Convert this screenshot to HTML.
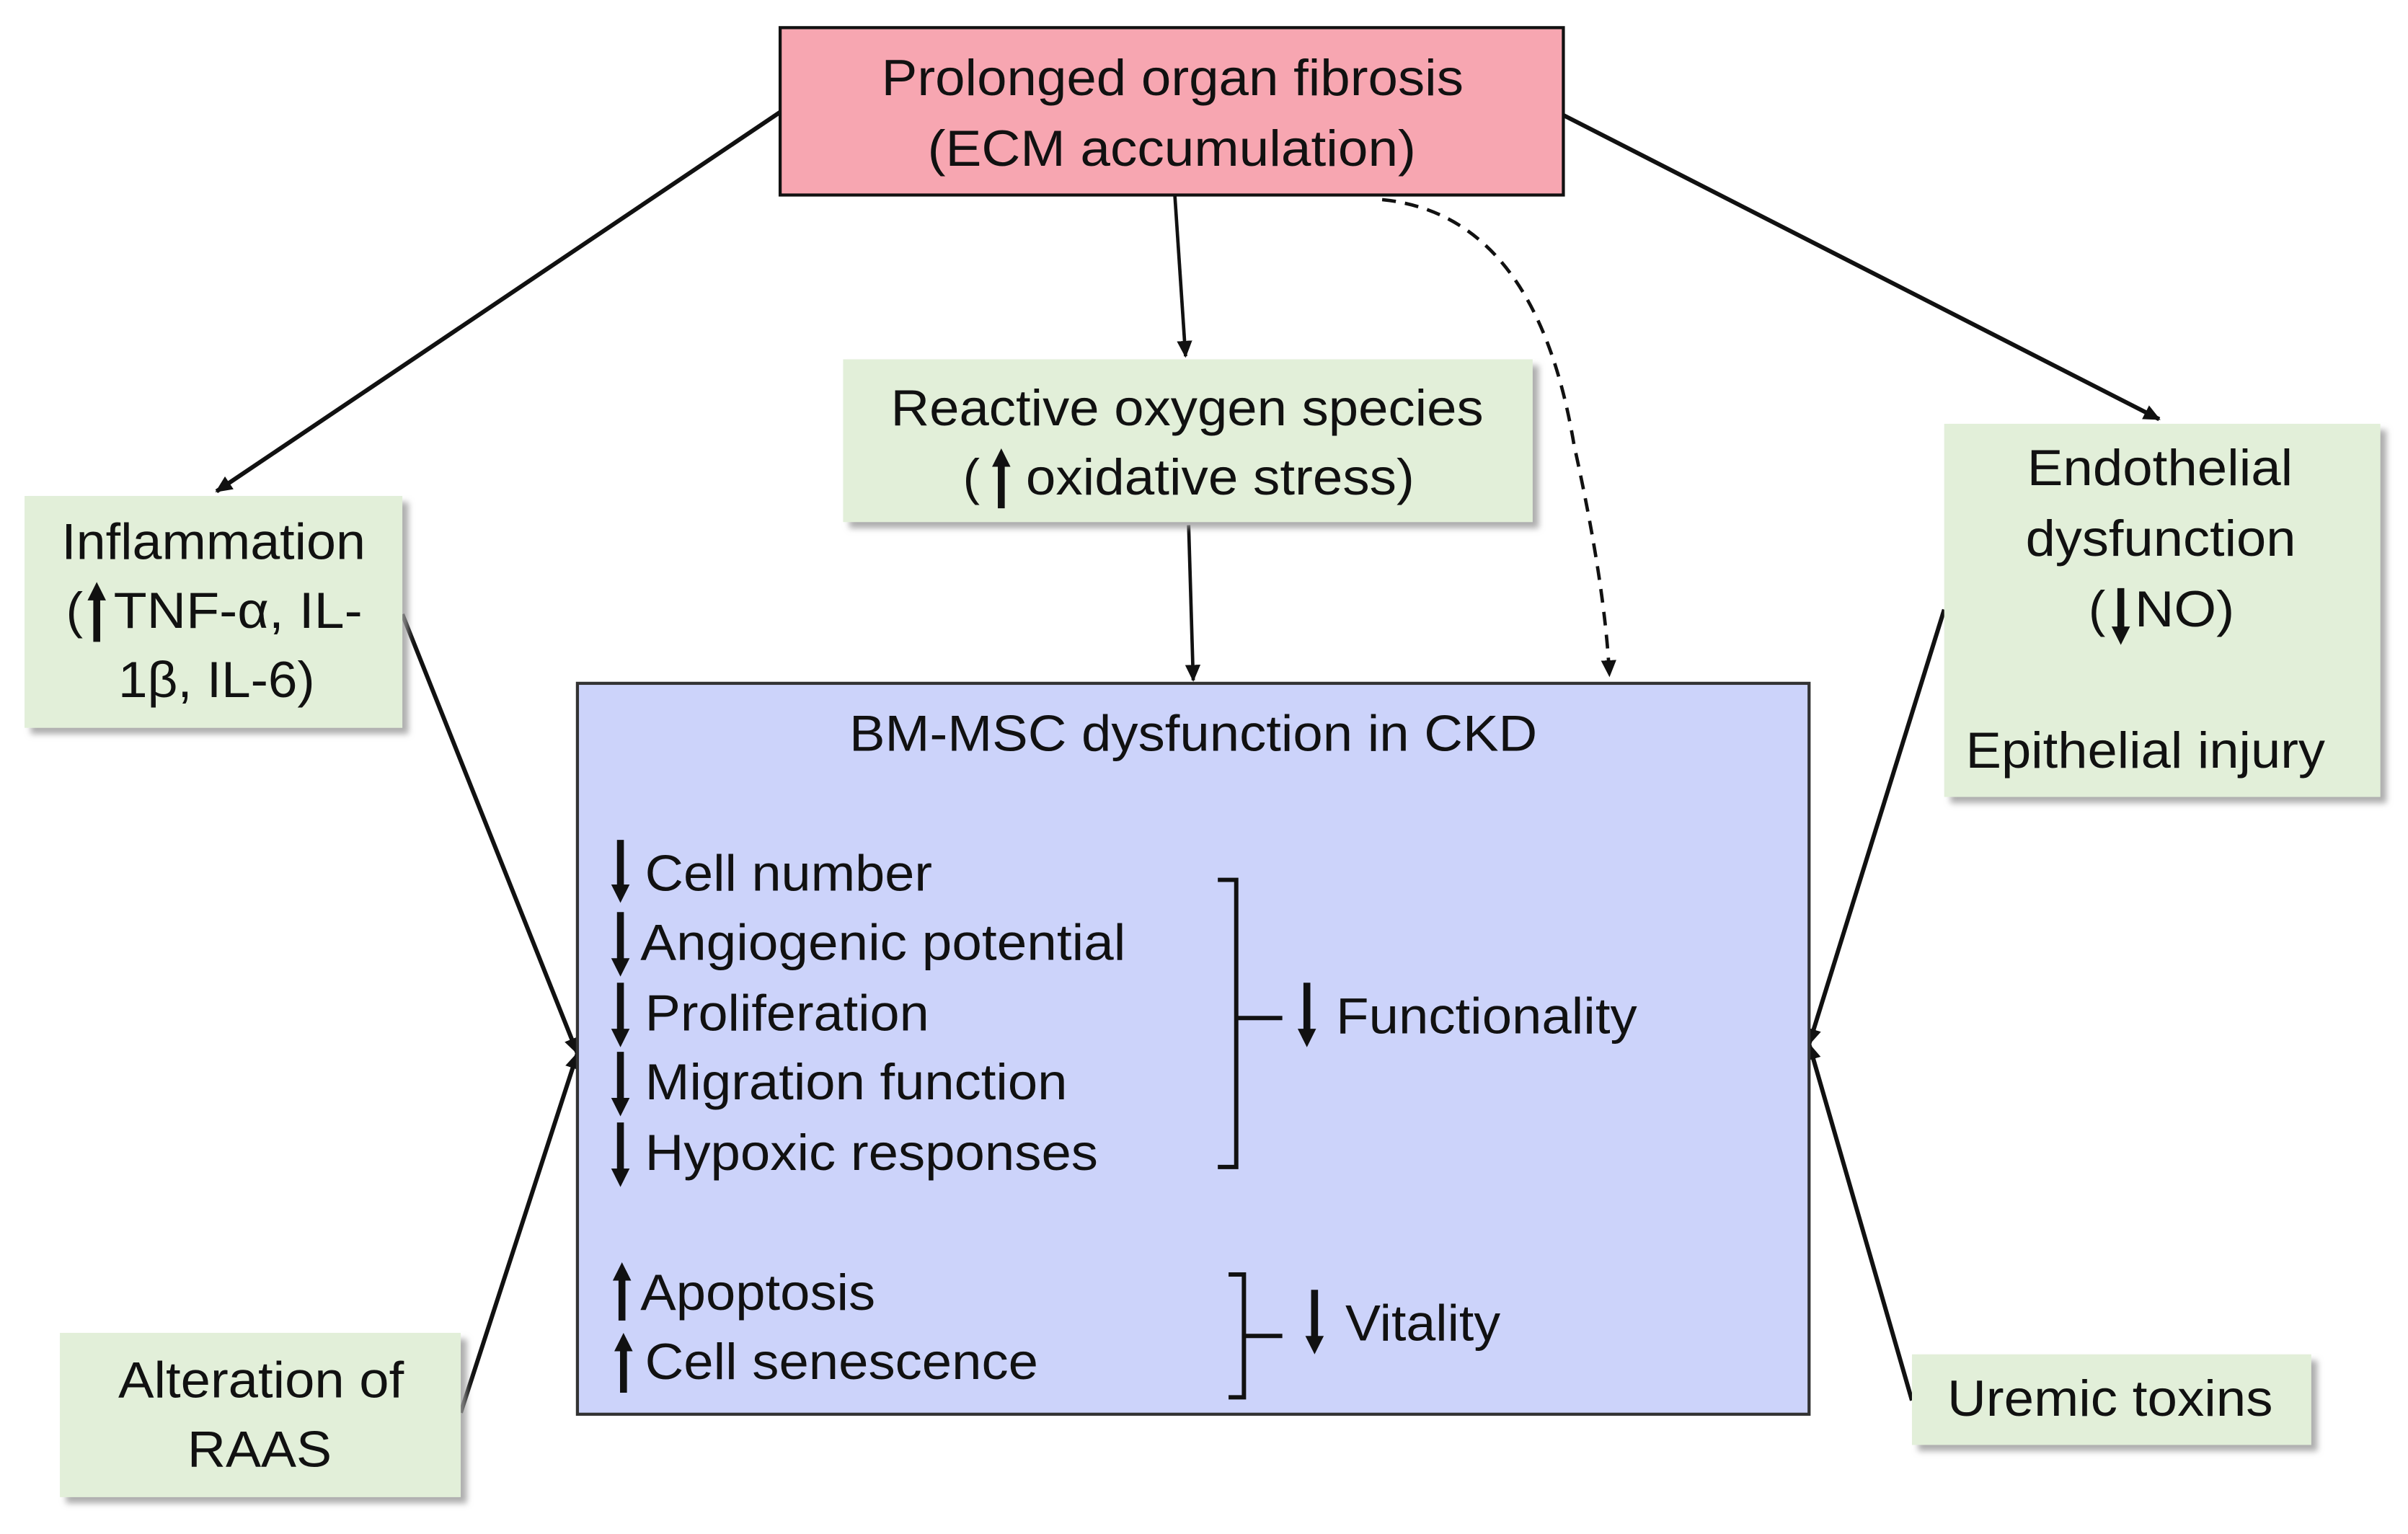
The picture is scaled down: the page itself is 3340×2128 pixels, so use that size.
<!DOCTYPE html>
<html><head><meta charset="utf-8"><style>
html,body{margin:0;padding:0;background:#fff;}
svg{display:block;}
text{font-family:"Liberation Sans",Arial,sans-serif;font-size:33px;fill:#111;}
</style></head><body>
<svg width="3340" height="2128" viewBox="0 0 1568 999" preserveAspectRatio="none" xmlns="http://www.w3.org/2000/svg">
<defs>
<marker id="ah" markerWidth="12" markerHeight="12" refX="10" refY="6" orient="auto" markerUnits="userSpaceOnUse"><path d="M0,1 L11,6 L0,11 Z" fill="#111"/></marker>
<filter id="sh" x="-10%" y="-10%" width="130%" height="130%"><feDropShadow dx="4" dy="4" stdDeviation="2" flood-color="#999" flood-opacity="0.8"/></filter>
</defs>
<g stroke="#111" stroke-width="2.8" fill="none">
<line x1="508" y1="73" x2="141" y2="320" marker-end="url(#ah)"/>
<line x1="765" y1="127" x2="772" y2="232" marker-end="url(#ah)" stroke-width="2.2"/>
<line x1="1018" y1="75" x2="1406" y2="273" marker-end="url(#ah)"/>
<line x1="774" y1="342" x2="777" y2="443" marker-end="url(#ah)" stroke-width="2.2"/>
<path d="M900,130 Q1000,140 1025,290 Q1045,380 1048,440" stroke-dasharray="9,6" marker-end="url(#ah)" stroke-width="2.2"/>
<line x1="262" y1="400" x2="376" y2="686" marker-end="url(#ah)"/>
<line x1="300" y1="920" x2="376" y2="686" marker-end="url(#ah)"/>
<line x1="1266" y1="397" x2="1178" y2="680" marker-end="url(#ah)"/>
<line x1="1245" y1="912" x2="1178" y2="680" marker-end="url(#ah)"/>
</g>
<rect x="508" y="18" width="510" height="109" fill="#f7a6b1" stroke="#111" stroke-width="2"/>
<rect x="549" y="234" width="449" height="106" fill="#e2efd9" filter="url(#sh)"/>
<rect x="16" y="323" width="246" height="151" fill="#e2efd9" filter="url(#sh)"/>
<rect x="1266" y="276" width="284" height="243" fill="#e2efd9" filter="url(#sh)"/>
<rect x="39" y="868" width="261" height="107" fill="#e2efd9" filter="url(#sh)"/>
<rect x="1245" y="882" width="260" height="59" fill="#e2efd9" filter="url(#sh)"/>
<rect x="376" y="445" width="802" height="476" fill="#ccd3fa" stroke="#333" stroke-width="2"/>
<g lengthAdjust="spacingAndGlyphs">
<text x="574" y="62" textLength="379" lengthAdjust="spacingAndGlyphs">Prolonged organ fibrosis</text>
<text x="604" y="108" textLength="318" lengthAdjust="spacingAndGlyphs">(ECM accumulation)</text>
<text x="580" y="277" textLength="386" lengthAdjust="spacingAndGlyphs">Reactive oxygen species</text>
<text x="627" y="322">(</text>
<text x="668" y="322" textLength="253" lengthAdjust="spacingAndGlyphs">oxidative stress)</text>
<text x="40" y="364" textLength="198" lengthAdjust="spacingAndGlyphs">Inflammation</text>
<text x="43" y="409">(</text>
<text x="74" y="409" textLength="162" lengthAdjust="spacingAndGlyphs">TNF-α, IL-</text>
<text x="77" y="454" textLength="128" lengthAdjust="spacingAndGlyphs">1β, IL-6)</text>
<text x="1320" y="316" textLength="173" lengthAdjust="spacingAndGlyphs">Endothelial</text>
<text x="1319" y="362" textLength="176" lengthAdjust="spacingAndGlyphs">dysfunction</text>
<text x="1360" y="408">(</text>
<text x="1390" y="408" textLength="65" lengthAdjust="spacingAndGlyphs">NO)</text>
<text x="1280" y="500" textLength="234" lengthAdjust="spacingAndGlyphs">Epithelial injury</text>
<text x="77" y="910" textLength="186" lengthAdjust="spacingAndGlyphs">Alteration of</text>
<text x="122" y="955" textLength="94" lengthAdjust="spacingAndGlyphs">RAAS</text>
<text x="1268" y="922" textLength="212" lengthAdjust="spacingAndGlyphs">Uremic toxins</text>
<text x="553" y="489" textLength="448" lengthAdjust="spacingAndGlyphs">BM-MSC dysfunction in CKD</text>
<text x="420" y="580" textLength="187" lengthAdjust="spacingAndGlyphs">Cell number</text>
<text x="417" y="625" textLength="316" lengthAdjust="spacingAndGlyphs">Angiogenic potential</text>
<text x="420" y="671" textLength="185" lengthAdjust="spacingAndGlyphs">Proliferation</text>
<text x="420" y="716" textLength="275" lengthAdjust="spacingAndGlyphs">Migration function</text>
<text x="420" y="762" textLength="295" lengthAdjust="spacingAndGlyphs">Hypoxic responses</text>
<text x="417" y="853" textLength="153" lengthAdjust="spacingAndGlyphs">Apoptosis</text>
<text x="420" y="898" textLength="256" lengthAdjust="spacingAndGlyphs">Cell senescence</text>
<text x="870" y="673" textLength="196" lengthAdjust="spacingAndGlyphs">Functionality</text>
<text x="876" y="873" textLength="101" lengthAdjust="spacingAndGlyphs">Vitality</text>
</g>
<g stroke="#111" fill="#111">
<g stroke-width="4.5">
<line x1="652" y1="331" x2="652" y2="300"/>
<line x1="63" y1="418" x2="63" y2="387"/>
<line x1="1381" y1="383" x2="1381" y2="410"/>
<line x1="404" y1="547" x2="404" y2="578"/>
<line x1="404" y1="594" x2="404" y2="626"/>
<line x1="404" y1="640" x2="404" y2="672"/>
<line x1="404" y1="685" x2="404" y2="717"/>
<line x1="404" y1="731" x2="404" y2="763"/>
<line x1="405" y1="860" x2="405" y2="830"/>
<line x1="406" y1="907" x2="406" y2="877"/>
<line x1="851" y1="640" x2="851" y2="672"/>
<line x1="856" y1="840" x2="856" y2="872"/>
</g>
<g stroke="none">
<path d="M646,304 L652,292 L658,304Z"/>
<path d="M57,391 L63,379 L69,391Z"/>
<path d="M1375,408 L1381,420 L1387,408Z"/>
<path d="M398,576 L404,588 L410,576Z"/>
<path d="M398,624 L404,636 L410,624Z"/>
<path d="M398,670 L404,682 L410,670Z"/>
<path d="M398,715 L404,727 L410,715Z"/>
<path d="M398,761 L404,773 L410,761Z"/>
<path d="M399,834 L405,822 L411,834Z"/>
<path d="M400,880 L406,868 L412,880Z"/>
<path d="M845,670 L851,682 L857,670Z"/>
<path d="M850,870 L856,882 L862,870Z"/>
</g>
</g>
<g stroke="#111" stroke-width="2.8" fill="none">
<path d="M793,573 L805,573 L805,760 L793,760"/>
<path d="M805,663 L835,663"/>
<path d="M800,830 L810,830 L810,910 L800,910"/>
<path d="M810,870 L835,870"/>
</g>
</svg>
</body></html>
